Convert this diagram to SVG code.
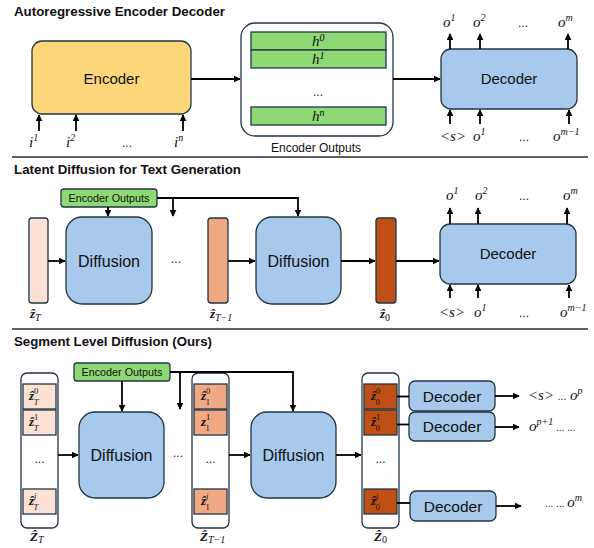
<svg xmlns="http://www.w3.org/2000/svg" width="594" height="548" viewBox="0 0 594 548">
<defs>
<marker id="ah" viewBox="0 0 10 10" refX="9" refY="5" markerWidth="7" markerHeight="7" markerUnits="userSpaceOnUse" orient="auto"><path d="M0,0 L10,5 L0,10 z" fill="#000"/></marker>
<style>
.bx{stroke:#1f3645;stroke-width:1.3}
.blue{fill:#a6c9ec}
.grn{fill:#8ed973}
.p1{fill:#fbe2d5}
.p2{fill:#f1a983}
.p3{fill:#c04f15}
.wh{fill:#fff}
.ar{stroke:#000;stroke-width:1.8;fill:none;marker-end:url(#ah)}
.ln{stroke:#000;stroke-width:1.8;fill:none}
.sep{stroke:#2a2a2a;stroke-width:1.6}
.title{font-family:"Liberation Sans",Arial,sans-serif;font-weight:bold;font-size:12.5px;fill:#111}
.lab{font-family:"Liberation Sans",Arial,sans-serif;text-anchor:middle;fill:#111}
.m{font-family:"Liberation Serif","DejaVu Serif",serif;font-style:italic;font-size:15px;fill:#111}
.sup{font-size:10px}
.cs{font-size:8.5px;font-weight:normal}
.up{font-style:normal}
.zb{font-family:"Liberation Serif","DejaVu Serif",serif;font-style:italic;font-weight:bold;font-size:13px;fill:#111}
.dots{font-family:"Liberation Sans",Arial,sans-serif;font-size:12px;text-anchor:middle;fill:#111}
</style>
</defs>
<rect width="594" height="548" fill="#fff"/>

<!-- separators and titles -->
<line class="sep" x1="12" y1="157" x2="588" y2="157"/>
<line class="sep" x1="12" y1="329" x2="588" y2="329"/>
<text class="title" x="14" y="16" textLength="211" lengthAdjust="spacingAndGlyphs">Autoregressive Encoder Decoder</text>
<text class="title" x="14" y="174" textLength="227" lengthAdjust="spacingAndGlyphs">Latent Diffusion for Text Generation</text>
<text class="title" x="14" y="346" textLength="198" lengthAdjust="spacingAndGlyphs">Segment Level Diffusion (Ours)</text>

<!-- ===== Section 1 ===== -->
<g id="encoder">
<rect class="bx" x="32" y="41" width="159" height="73" rx="10" fill="#fdd67a"/>
<text class="lab" x="111.5" y="84" font-size="15">Encoder</text>
</g>
<g id="encoder-outputs">
<rect class="bx wh" x="241" y="23" width="152" height="113" rx="14"/>
<rect class="bx grn" x="251" y="32" width="135" height="18"/>
<rect class="bx grn" x="251" y="50" width="135" height="18"/>
<rect class="bx grn" x="251" y="107" width="135" height="18"/>
<text class="m" x="312" y="46">h<tspan class="sup" dy="-5">0</tspan></text>
<text class="m" x="312" y="64">h<tspan class="sup" dy="-5">1</tspan></text>
<text class="dots" x="318" y="96">...</text>
<text class="m" x="312" y="121">h<tspan class="sup" dy="-5">n</tspan></text>
<text class="lab" x="316" y="152" font-size="12">Encoder Outputs</text>
</g>
<g id="decoder-top">
<rect class="bx blue" x="441" y="49" width="136" height="60" rx="10"/>
<text class="lab" x="509" y="84" font-size="15">Decoder</text>
</g>
<g id="labels-top">
<text class="m" x="29" y="147">i<tspan class="sup" dy="-6">1</tspan></text>
<text class="m" x="66" y="147">i<tspan class="sup" dy="-6">2</tspan></text>
<text class="dots" x="127" y="147">...</text>
<text class="m" x="174" y="147">i<tspan class="sup" dy="-6">n</tspan></text>
<text class="m" x="443" y="27">o<tspan class="sup" dy="-6">1</tspan></text>
<text class="m" x="473" y="27">o<tspan class="sup" dy="-6">2</tspan></text>
<text class="dots" x="523" y="27">...</text>
<text class="m" x="558" y="27">o<tspan class="sup" dy="-6">m</tspan></text>
<text class="m" x="440" y="141" font-size="12.5">&lt;s&gt;</text>
<text class="m" x="473" y="141">o<tspan class="sup" dy="-6">1</tspan></text>
<text class="dots" x="524" y="141">...</text>
<text class="m" x="553" y="141">o<tspan class="sup" dy="-6">m−1</tspan></text>
</g>

<!-- ===== Section 2 ===== -->
<g id="enc-out-2">
<rect class="bx grn" x="61" y="189" width="96" height="18" rx="3"/>
<text class="lab" x="109" y="202" font-size="10.8">Encoder Outputs</text>
</g>
<g id="zT-2"><rect class="bx p1" x="29" y="218" width="19" height="85" rx="3"/>
<text class="zb" x="30" y="318">ẑ<tspan class="sup" font-weight="normal" dy="3">T</tspan></text></g>
<g id="diffusion-2a"><rect class="bx blue" x="66" y="217" width="86" height="87" rx="16"/>
<text class="lab" x="109" y="267" font-size="16">Diffusion</text></g>
<text class="dots" x="176" y="263">...</text>
<g id="zT1-2"><rect class="bx p2" x="208" y="218" width="20" height="85" rx="3"/>
<text class="zb" x="210" y="318">ẑ<tspan class="sup" font-weight="normal" dy="3">T−1</tspan></text></g>
<g id="diffusion-2b"><rect class="bx blue" x="256" y="217" width="85" height="87" rx="16"/>
<text class="lab" x="298.5" y="267" font-size="16">Diffusion</text></g>
<g id="z0-2"><rect class="bx p3" x="376" y="218" width="20" height="85" rx="3"/>
<text class="zb" x="380" y="318">ẑ<tspan class="sup up" font-weight="normal" dy="3">0</tspan></text></g>
<g id="decoder-2"><rect class="bx blue" x="440" y="224" width="136" height="60" rx="10"/>
<text class="lab" x="508" y="259" font-size="15">Decoder</text></g>
<g id="labels-2">
<text class="m" x="446" y="200">o<tspan class="sup" dy="-6">1</tspan></text>
<text class="m" x="475" y="200">o<tspan class="sup" dy="-6">2</tspan></text>
<text class="dots" x="524" y="200">...</text>
<text class="m" x="563" y="200">o<tspan class="sup" dy="-6">m</tspan></text>
<text class="m" x="439" y="317" font-size="12.5">&lt;s&gt;</text>
<text class="m" x="474" y="317">o<tspan class="sup" dy="-6">1</tspan></text>
<text class="dots" x="524" y="317">...</text>
<text class="m" x="560" y="317">o<tspan class="sup" dy="-6">m−1</tspan></text>
</g>

<!-- ===== Section 3 ===== -->
<g id="enc-out-3">
<rect class="bx grn" x="74" y="363" width="96" height="18" rx="3"/>
<text class="lab" x="122" y="376" font-size="10.8">Encoder Outputs</text>
</g>
<g id="ZT-3">
<rect class="bx wh" x="21" y="373" width="37" height="155" rx="6"/>
<rect class="bx p1" x="23" y="384" width="33" height="25"/>
<rect class="bx p1" x="23" y="410" width="33" height="25"/>
<rect class="bx p1" x="23" y="489" width="33" height="25"/>
<text class="zb" x="29" y="400">ẑ<tspan class="cs up" dy="-6">0</tspan><tspan class="cs" dx="-4.5" dy="11">T</tspan></text>
<text class="zb" x="29" y="426">ẑ<tspan class="cs up" dy="-6">1</tspan><tspan class="cs" dx="-4.5" dy="11">T</tspan></text>
<text class="dots" x="39.5" y="463" font-size="10">...</text>
<text class="zb" x="29" y="505">ẑ<tspan class="cs" dy="-6">j</tspan><tspan class="cs" dx="-3" dy="11">T</tspan></text>
<text class="zb" x="30" y="541" font-size="14">Ẑ<tspan class="sup" font-weight="normal" dy="2">T</tspan></text>
</g>
<g id="diffusion-3a"><rect class="bx blue" x="79" y="412" width="85" height="86" rx="16"/>
<text class="lab" x="121.5" y="461" font-size="16">Diffusion</text></g>
<text class="dots" x="178" y="457">...</text>
<g id="ZT1-3">
<rect class="bx wh" x="192" y="373" width="37" height="155" rx="6"/>
<rect class="bx p2" x="194" y="384" width="33" height="25"/>
<rect class="bx p2" x="194" y="410" width="33" height="25"/>
<rect class="bx p2" x="194" y="489" width="33" height="25"/>
<text class="zb" x="201" y="400">ẑ<tspan class="cs up" dy="-6">0</tspan><tspan class="cs up" dx="-4.5" dy="11">1</tspan></text>
<text class="zb" x="201" y="426">z<tspan class="cs up" dy="-6">1</tspan><tspan class="cs up" dx="-4.5" dy="11">1</tspan></text>
<text class="dots" x="210.5" y="463" font-size="10">...</text>
<text class="zb" x="201" y="505">ẑ<tspan class="cs" dy="-6">j</tspan><tspan class="cs up" dx="-3" dy="11">1</tspan></text>
<text class="zb" x="200" y="541" font-size="14">Ẑ<tspan class="sup" font-weight="normal" dy="2">T−1</tspan></text>
</g>
<g id="diffusion-3b"><rect class="bx blue" x="251" y="412" width="85" height="86" rx="16"/>
<text class="lab" x="293.5" y="461" font-size="16">Diffusion</text></g>
<g id="Z0-3">
<rect class="bx wh" x="362" y="373" width="37" height="155" rx="6"/>
<rect class="bx p3" x="364" y="384" width="33" height="25"/>
<rect class="bx p3" x="364" y="410" width="33" height="25"/>
<rect class="bx p3" x="364" y="489" width="33" height="25"/>
<text class="zb" x="371" y="400">ẑ<tspan class="cs up" dy="-6">0</tspan><tspan class="cs up" dx="-4.5" dy="11">0</tspan></text>
<text class="zb" x="371" y="426">ẑ<tspan class="cs up" dy="-6">1</tspan><tspan class="cs up" dx="-4.5" dy="11">0</tspan></text>
<text class="dots" x="380.5" y="463" font-size="10">...</text>
<text class="zb" x="371" y="505">ẑ<tspan class="cs" dy="-6">j</tspan><tspan class="cs up" dx="-3" dy="11">0</tspan></text>
<text class="zb" x="374" y="541" font-size="14">Ẑ<tspan class="sup up" font-weight="normal" dy="2">0</tspan></text>
</g>
<g id="decoder-3a"><rect class="bx blue" x="409" y="381" width="86" height="30" rx="6"/>
<text class="lab" x="452" y="401.5" font-size="15.5">Decoder</text></g>
<g id="decoder-3b"><rect class="bx blue" x="409" y="412" width="86" height="29" rx="6"/>
<text class="lab" x="452" y="432" font-size="15.5">Decoder</text></g>
<g id="decoder-3c"><rect class="bx blue" x="410" y="491" width="86" height="30" rx="6"/>
<text class="lab" x="453" y="511.5" font-size="15.5">Decoder</text></g>
<g id="labels-3">
<text class="m" x="528" y="400" font-size="12.5">&lt;s&gt; <tspan font-style="normal" font-family="Liberation Sans, sans-serif" font-size="10">...</tspan> <tspan font-size="15">o</tspan><tspan class="sup" dy="-6">p</tspan></text>
<text class="m" x="529" y="431">o<tspan class="sup" dy="-6">p+1</tspan><tspan font-style="normal" font-family="Liberation Sans, sans-serif" font-size="10" dy="6"> ... ...</tspan></text>
<text class="m" x="545" y="507"><tspan font-style="normal" font-family="Liberation Sans, sans-serif" font-size="10">... ... </tspan>o<tspan class="sup" dy="-6">m</tspan></text>
</g>

<!-- ===== Connectors ===== -->
<g id="connectors">
<path class="ar" d="M39 131 V115"/>
<path class="ar" d="M76 131 V115"/>
<path class="ar" d="M183 131 V115"/>
<path class="ar" d="M191 79 H240"/>
<path class="ar" d="M393 79 H440"/>
<path class="ar" d="M450 49 V34"/>
<path class="ar" d="M480 49 V34"/>
<path class="ar" d="M568 49 V34"/>
<path class="ar" d="M450 124 V110"/>
<path class="ar" d="M480 124 V110"/>
<path class="ar" d="M569 124 V110"/>

<path class="ar" d="M157 198 H298 V216"/>
<path class="ar" d="M173 198 V216"/>
<path class="ar" d="M108 207 V216"/>
<path class="ar" d="M48 261 H65"/>
<path class="ar" d="M228 261 H255"/>
<path class="ar" d="M341 261 H375"/>
<path class="ar" d="M396 261 H439"/>
<path class="ar" d="M450 224 V208"/>
<path class="ar" d="M478 224 V208"/>
<path class="ar" d="M567 224 V208"/>
<path class="ar" d="M450 298 V285"/>
<path class="ar" d="M478 298 V285"/>
<path class="ar" d="M569 298 V285"/>

<path class="ar" d="M170 372 H293 V411"/>
<path class="ar" d="M180 372 V409"/>
<path class="ar" d="M122 381 V411"/>
<path class="ar" d="M58 455 H78"/>
<path class="ar" d="M229 455 H250"/>
<path class="ar" d="M336 455 H361"/>
<path class="ln" d="M397 396.5 H409"/>
<path class="ln" d="M397 424.5 H409"/>
<path class="ln" d="M397 503 H410"/>
<path class="ar" d="M495 396 H519"/>
<path class="ar" d="M495 427 H519"/>
<path class="ar" d="M496 506 H521"/>
</g>
</svg>
